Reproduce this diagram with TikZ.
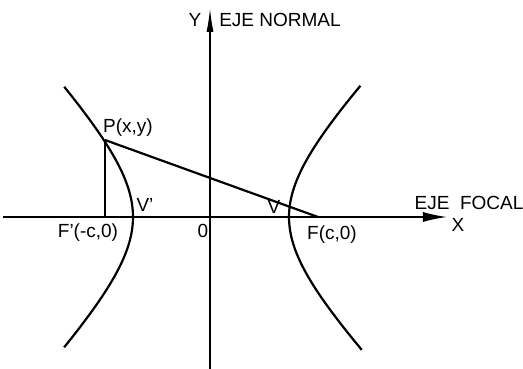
\documentclass[tikz,border=0pt]{standalone}
\usepackage{fontspec}
\setmainfont{Liberation Sans}
\usetikzlibrary{arrows.meta}
\tikzset{
  axis/.style={line width=1.5pt},
  curve/.style={line width=2.2pt},
  seg/.style={line width=2.2pt},
  lbl/.style={inner sep=0pt,font=\fontsize{19}{21}\selectfont},
}
\begin{document}
\begin{tikzpicture}[x=1pt,y=1pt]
\useasboundingbox (-210,-152) rectangle (313,217);
% axis ends
\coordinate (xl) at (-207,0);
\coordinate (xr) at (237,0);
\coordinate (yb) at (0,-152);
\coordinate (yt) at (0,209);
\draw[axis,-{Latex[length=24pt,width=10pt]}] (xl) -- (xr);
\draw[axis,-{Latex[length=24pt,width=7pt]}] (yb) -- (yt);
% hyperbola branches
\draw[curve,domain=-1.254:1.254,samples=60,smooth]
  plot ({-77*(exp(\x)+exp(-\x))/2},{81*(exp(\x)-exp(-\x))/2});
\draw[curve,domain=-1.27:1.26,samples=60,smooth]
  plot ({79*(exp(\x)+exp(-\x))/2},{81*(exp(\x)-exp(-\x))/2});
% points
\coordinate (Fp) at (-105,0);
\coordinate (F) at (108,0);
\coordinate (P) at (-105,77);
\draw[seg,line width=2.6pt] (P) -- (Fp);
\draw[seg] (P) -- (F);
% labels
\node[lbl] (ly) at (-15,197) {Y};
\node[lbl] (lnorm) at (70,197) {EJE NORMAL};
\node[lbl] (lx) at (248,-8) {X};
\node[lbl] (lfocal) at (259,14) {EJE\ \ FOCAL};
\node[lbl] (lF) at (122,-18) {F(c,0)};
\node[lbl] (lV) at (64,10) {V};
\node[lbl] (lVp) at (-65,12) {V'};
\node[lbl] (lO) at (-7,-14) {0};
\node[lbl] (lFp) at (-122,-16) {F'(-c,0)};
\node[lbl] (lP) at (-82,89) {P(x,y)};
\end{tikzpicture}
\end{document}
